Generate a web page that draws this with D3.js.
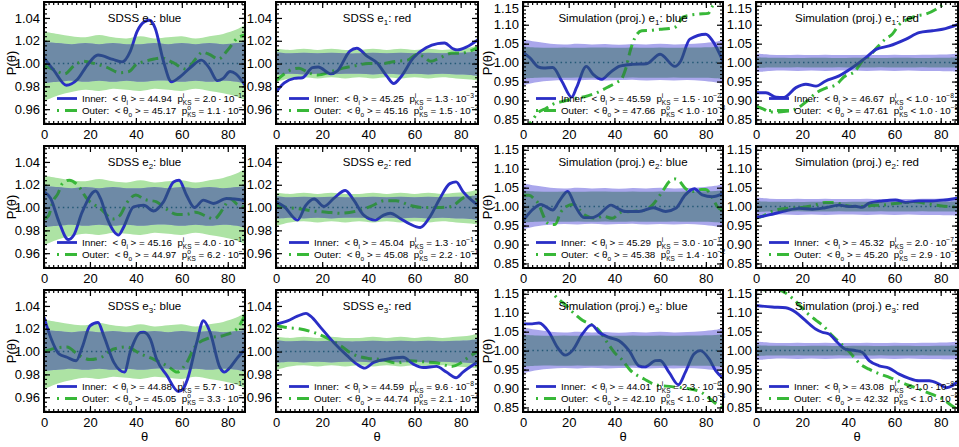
<!DOCTYPE html>
<html>
<head>
<meta charset="utf-8">
<script src="https://cdn.jsdelivr.net/npm/d3@7"></script>
<style>
  body { margin: 0; background: #fff; }
  text { font-family: "Liberation Sans", Arial, Helvetica, sans-serif; white-space: pre; }
</style>
</head>
<body>
<svg id="chart" width="959" height="447" xml:space="preserve"></svg>
<script>
// ---- data ----
var colSource = ["SDSS", "SDSS", "Simulation (proj.)", "Simulation (proj.)"];
var colColour = ["blue", "red", "blue", "red"];

var innerMean = [44.94, 45.25, 45.59, 46.67, 45.16, 45.04, 45.29, 45.32, 44.88, 44.59, 44.01, 43.08];
var outerMean = [45.17, 45.16, 47.66, 47.61, 44.97, 45.08, 45.38, 45.20, 45.05, 44.74, 42.10, 42.32];
var innerPKS = ["2.0e-1", "1.3e-3", "1.5e-2", "<1.0e-8", "4.0e-1", "1.3e-1", "3.0e-1", "2.0e-7", "5.7e-1", "9.6e-8", "2.3e-6", "<1.0e-8"];
var outerPKS = ["1.1e-1", "1.5e-2", "<1.0e-8", "<1.0e-8", "6.2e-1", "2.2e-1", "1.4e-2", "2.9e-2", "3.3e-1", "2.1e-7", "<1.0e-8", "<1.0e-8"];

var xTicks = [0, 20, 40, 60, 80];
var sdssTicks = [0.96, 0.98, 1.00, 1.02, 1.04];
var simTicks = [0.85, 0.90, 0.95, 1.00, 1.05, 1.10, 1.15];

// inner sample curves [theta, P]
var innerCurves = [
  [[0,1.005],[4.3,0.994],[9.7,0.981],[14.5,0.986],[19,0.999],[23.5,1.0075],[30,1.0036],[34,1.0015],[37.6,1.011],[40.5,1.028],[44,1.037],[46,1.038],[48.4,1.031],[52,1.002],[55.5,0.984],[59,0.988],[64,0.997],[68.5,1.003],[72,0.996],[75.5,0.985],[78,0.987],[81,0.993],[83.5,0.991],[87.5,0.981]],
  [[0,0.975],[3.6,0.983],[7.9,0.987],[11.5,0.9876],[15.8,0.9964],[18.3,0.997],[23.7,0.991],[26.5,0.9934],[32,1.011],[35,1.0135],[39.4,1.0065],[43.7,1.0007],[48,0.989],[51,0.9825],[53.8,0.9876],[59.5,1.005],[65,1.0138],[70,1.0175],[73,1.018],[76.7,1.013],[78.5,1.012],[82.5,1.0145],[87.5,1.021]],
  [[0,1.027],[3,1.013],[6.6,0.989],[9,0.986],[13,0.987],[17,0.951],[21.3,0.909],[23.4,0.934],[27.7,0.99],[30.7,0.969],[34.5,0.956],[38,0.973],[42.4,0.991],[48,0.9955],[54,0.997],[60,1.022],[66.5,0.99],[68.7,1.001],[73,1.062],[80,1.075],[83,1.057],[87.5,1.004]],
  [[0,0.9205],[4.3,0.9205],[8.7,0.909],[12,0.908],[17.3,0.934],[21.6,0.943],[26,0.938],[30,0.951],[36,0.965],[41.8,0.987],[47.6,1.013],[52,1.035],[57.7,1.044],[65,1.062],[70.6,1.079],[76.4,1.084],[80.8,1.088],[87.5,1.101]],
  [[0,1.014],[2.9,1.008],[6.5,0.9876],[10.5,0.972],[13,0.976],[16.6,0.996],[22.5,1.0145],[24.6,1.008],[27.5,0.9905],[32.5,0.976],[34.7,0.983],[39,1.0007],[43.4,1.002],[47.7,0.997],[52,1.005],[56.4,1.0225],[58.8,1.024],[62,1.011],[65.5,1.0],[69.4,1.0065],[73.7,1.0036],[79.5,1.008],[83,1.0075],[87.5,1.006]],
  [[0,1.005],[3.6,1.0007],[9.3,0.989],[12.9,1.002],[16.5,1.0075],[20.8,1.001],[25,1.008],[30,1.015],[33.7,1.0065],[38,0.9934],[43,0.989],[46.6,0.9934],[49.5,0.995],[53.8,0.9905],[58,0.9856],[62.5,0.9825],[66.7,0.992],[71,1.008],[75.3,1.021],[78,1.0225],[81,1.014],[87.5,1.002]],
  [[0,0.962],[4,0.991],[7.9,1.006],[10,1.0],[13,0.991],[15.7,1.013],[19.5,1.04],[23,1.0],[26.7,0.971],[30.3,0.971],[33,0.978],[38.5,1.004],[40.5,0.9985],[45,0.987],[50.7,0.987],[57,0.997],[62.4,0.987],[66.8,0.9955],[71,1.031],[75,1.047],[78.4,1.031],[82.8,1.026],[87.5,1.035]],
  [[0,0.971],[5.6,0.978],[12.9,0.989],[18.6,0.9955],[24.4,0.993],[30,0.997],[36,1.004],[40.3,1.0],[43,1.001],[46,0.998],[49,1.009],[54.7,1.015],[60.5,1.0176],[64.8,1.011],[70.6,1.015],[76.4,1.015],[82,1.0176],[87.5,1.022]],
  [[0,1.03],[2.9,1.0124],[6.5,0.998],[10,0.995],[14,0.992],[16.6,1.0036],[20,1.0225],[23.5,1.0255],[26,1.014],[30.4,0.9905],[35,0.982],[37.6,1.0],[42,1.0167],[43.5,1.017],[46.3,1.011],[49,0.9934],[53.5,0.979],[58.5,0.965],[60.5,0.967],[62.5,0.976],[66.5,1.008],[69.4,1.027],[72.3,1.017],[76.6,0.986],[78.5,0.982],[80.5,0.985],[84,0.994],[87.5,1.002]],
  [[0,1.024],[5,1.027],[9.3,1.031],[13,1.0335],[15,1.031],[19.4,1.021],[25,1.008],[30.8,0.9964],[35,0.989],[38.5,0.9855],[42.3,0.9905],[48,0.9934],[55,0.995],[59.5,0.989],[63.8,0.986],[69.5,0.987],[73.8,0.982],[78,0.977],[81,0.982],[87.5,0.991]],
  [[0,1.0706],[4,1.0706],[7,1.073],[11.4,1.0485],[15,1.009],[18.5,0.988],[21.6,1.0],[26,1.044],[30,1.068],[33.2,1.0485],[37.6,1.035],[42,1.026],[46.4,1.0],[50.7,0.96],[53.3,0.957],[58,0.9735],[60,0.974],[63.9,0.9426],[68,0.91],[71,0.9426],[74.8,0.991],[77.6,1.0],[81.4,0.978],[84.3,0.947],[87.5,0.927]],
  [[0,1.119],[7,1.115],[12.9,1.113],[17.2,1.1015],[21.5,1.079],[25.8,1.057],[28.7,1.0485],[31.6,1.044],[35.2,1.022],[38.8,1.004],[43.2,1.0],[46,0.9955],[49,0.9735],[53.3,0.96],[57.6,0.954],[62,0.938],[66.3,0.927],[70.6,0.9205],[75,0.9205],[79.3,0.912],[82.5,0.902],[85,0.907],[87.5,0.92]]
];

// outer sample curves [theta, P]
var outerCurves = [
  [[0,0.998],[4,0.995],[9,0.991],[13,0.998],[17,1.002],[22,1.0],[27,0.997],[33,0.992],[37,0.993],[40,0.999],[44,1.002],[48,1.004],[51,1.005],[56,1.001],[62,0.995],[66,1.004],[69,1.01],[72,1.008],[76,1.004],[80,1.012],[84,1.022],[87.5,1.025]],
  [[0,0.985],[3,0.99],[7,0.995],[10,0.996],[14,0.992],[18,0.99],[24,0.993],[29,0.996],[34,0.998],[40,1.0],[46,1.0],[52,1.002],[57,1.003],[61,1.008],[64,1.006],[67,1.002],[71,1.005],[76,1.009],[80,1.009],[84,1.011],[87.5,1.014]],
  [[0,0.825],[3,0.84],[7,0.87],[10,0.879],[13,0.89],[17,0.897],[22,0.905],[27,0.91],[32,0.92],[37,0.935],[41,0.948],[43,0.956],[45,0.985],[47,1.033],[49,1.066],[52,1.084],[56,1.085],[60,1.088],[64,1.09],[67,1.095],[70,1.12],[73,1.125],[77,1.128],[81,1.13],[83,1.15],[86,1.175]],
  [[0,0.885],[3,0.878],[6,0.87],[10,0.87],[14,0.872],[18,0.88],[22,0.898],[26,0.92],[30,0.932],[35,0.943],[38,0.962],[43,0.978],[46,1.004],[49,1.017],[52.6,1.041],[56,1.062],[59,1.075],[62,1.1],[66,1.115],[70,1.124],[73.5,1.128],[78,1.141],[83,1.163],[87.5,1.19]],
  [[0,0.99],[2,0.993],[4,1.006],[6,1.012],[8,1.021],[11,1.024],[14.5,1.02],[19,1.007],[24.6,0.999],[30,0.99],[33,0.993],[36,1.004],[40,1.011],[44,1.007],[49,1.005],[53,0.999],[58,0.994],[62,0.994],[66,0.996],[71,0.992],[74,0.99],[78,0.999],[81,1.008],[84,1.003],[87.5,1.0]],
  [[0,1.002],[5,1.0],[10,0.999],[16,0.997],[22,0.996],[28,0.995],[35,0.997],[41,1.001],[47,1.006],[52,1.006],[58,1.002],[64,1.0],[70,1.0],[76,1.001],[82,1.009],[87.5,1.006]],
  [[0,1.03],[2.6,1.03],[5,1.02],[7,1.005],[8.5,0.982],[10,0.962],[12,0.953],[14,0.953],[16.5,0.985],[19,1.0],[22,1.006],[25,0.99],[27,0.978],[32,0.969],[35,0.975],[39,0.969],[43,0.985],[49,0.988],[53,0.99],[56.6,1.004],[61,1.04],[64,1.066],[66.5,1.073],[68,1.07],[71,1.048],[74,1.04],[78,1.045],[80,1.045],[83,1.022],[85,1.0],[87.5,0.99]],
  [[0,0.97],[3,0.975],[6,0.985],[10,0.993],[15,0.996],[20,0.998],[25,1.003],[30,1.011],[34,1.011],[38,1.004],[42,1.0],[46,1.0],[50,1.003],[55,1.004],[60,1.008],[65,1.011],[69,1.013],[73,1.009],[78,1.004],[83,1.0],[87.5,0.999]],
  [[0,1.0],[5,1.003],[10,1.004],[15,0.997],[20,0.993],[25,0.995],[30,1.002],[36,1.004],[42,0.998],[48,0.993],[54,0.987],[58,0.982],[62,0.99],[66,1.005],[72,1.012],[78,1.014],[84,1.02],[87.5,1.032]],
  [[0,1.023],[5,1.021],[10,1.02],[16,1.017],[22,1.012],[28,1.005],[33,0.998],[40,0.994],[46,0.993],[52,0.99],[58,0.992],[64,0.991],[70,0.99],[76,0.987],[80,0.99],[84,0.996],[87.5,1.0]],
  [[0,1.2],[5,1.19],[9,1.17],[12,1.16],[15,1.138],[18,1.124],[22,1.1],[26,1.08],[30,1.068],[33,1.055],[37,1.02],[40,0.995],[43,0.978],[47,0.948],[53,0.925],[58,0.91],[65,0.905],[72,0.9],[78,0.89],[84,0.862],[87.5,0.848]],
  [[0,1.175],[4,1.16],[8.5,1.163],[12,1.155],[16,1.137],[22,1.1],[26,1.08],[29,1.066],[33,1.04],[37,1.017],[40,1.0],[42.5,0.982],[45,0.965],[49,0.951],[53,0.94],[58,0.929],[63,0.916],[70,0.9],[76,0.885],[81,0.872],[85,0.854],[87.5,0.845]]
];

// confidence bands, one set per column
var bandTheta = [0, 6, 12, 18, 24, 30, 36, 42, 48, 54, 60, 66, 72, 78, 84, 87.5];
var outerHi = [
  [1.028,1.026,1.024,1.023,1.025,1.023,1.022,1.024,1.022,1.023,1.024,1.022,1.024,1.026,1.030,1.034],
  [1.013,1.012,1.013,1.012,1.013,1.012,1.012,1.013,1.012,1.013,1.012,1.013,1.012,1.013,1.014,1.016],
  [1.062,1.055,1.050,1.048,1.050,1.048,1.049,1.047,1.049,1.048,1.050,1.048,1.049,1.051,1.055,1.060],
  [1.024,1.021,1.020,1.021,1.020,1.021,1.020,1.020,1.021,1.020,1.021,1.020,1.021,1.021,1.022,1.024]
];
var outerLo = [
  [0.967,0.972,0.975,0.977,0.976,0.978,0.977,0.976,0.978,0.977,0.976,0.978,0.976,0.974,0.971,0.968],
  [0.984,0.987,0.988,0.987,0.988,0.987,0.988,0.987,0.988,0.987,0.988,0.987,0.988,0.987,0.986,0.985],
  [0.940,0.948,0.952,0.954,0.953,0.955,0.953,0.954,0.955,0.953,0.954,0.953,0.954,0.952,0.948,0.944],
  [0.975,0.978,0.979,0.978,0.979,0.978,0.979,0.979,0.978,0.979,0.978,0.979,0.978,0.978,0.977,0.975]
];
var innerHi = [
  [1.019,1.018,1.017,1.018,1.017,1.018,1.017,1.017,1.018,1.017,1.018,1.017,1.018,1.017,1.018,1.019],
  [1.010,1.009,1.0095,1.009,1.0095,1.009,1.009,1.0095,1.009,1.0095,1.009,1.0095,1.009,1.0095,1.010,1.011],
  [1.042,1.040,1.039,1.040,1.039,1.040,1.040,1.039,1.040,1.039,1.040,1.039,1.040,1.040,1.041,1.043],
  [1.014,1.013,1.013,1.012,1.013,1.013,1.012,1.013,1.013,1.012,1.013,1.013,1.012,1.013,1.013,1.014]
];
var innerLo = [
  [0.983,0.984,0.985,0.984,0.985,0.984,0.985,0.984,0.985,0.985,0.984,0.985,0.984,0.985,0.984,0.982],
  [0.990,0.991,0.9905,0.991,0.9905,0.991,0.991,0.9905,0.991,0.9905,0.991,0.9905,0.991,0.9905,0.990,0.989],
  [0.958,0.960,0.961,0.960,0.961,0.960,0.961,0.960,0.961,0.960,0.960,0.961,0.960,0.960,0.959,0.957],
  [0.986,0.987,0.987,0.988,0.987,0.987,0.988,0.987,0.987,0.988,0.987,0.987,0.988,0.987,0.987,0.986]
];

// ---- layout ----
var colLeft = [44, 276, 523, 756], colWidth = [201, 202, 200, 202];
var rowTop = [2, 146, 290], rowHeight = 122;
var sdssDomain = [0.947, 1.054], simDomain = [0.838, 1.16];

var blue = "#2a2ec6", green = "#38b838";
var outerFill = ["#ade3a4", "#ade3a4", "#aaa7ec", "#aaa7ec"];

var svg = d3.select("#chart");
var defs = svg.append("defs");

function richText(g, x, y, runs, size) {
    var cx = x;
    runs.forEach(function(r) {
        if (r.t !== undefined) {
            var t = g.append("text").attr("x", cx).attr("y", y).attr("font-size", size).text(r.t);
            cx += t.node().getComputedTextLength();
        } else {
            var w = 0;
            if (r.sup) {
                var s = g.append("text").attr("x", cx).attr("y", y - size * 0.42)
                    .attr("font-size", size * 0.68).text(r.sup);
                w = Math.max(w, s.node().getComputedTextLength());
            }
            if (r.sub) {
                var b = g.append("text").attr("x", cx).attr("y", y + size * 0.28)
                    .attr("font-size", size * 0.66).text(r.sub);
                w = Math.max(w, b.node().getComputedTextLength());
            }
            cx += w;
        }
    });
    return cx;
}

function pRuns(p) {
    var lt = p[0] == "<";
    var s = lt ? p.slice(1) : p;
    var parts = s.split("e");
    return [{t: (lt ? " < " : " = ") + parts[0] + "\u2009\u00b7\u200910"}, {sup: parts[1].replace("-", "\u2212")}];
}

for (var r = 0; r < 3; r++) {
    for (var c = 0; c < 4; c++) {
        var i = r * 4 + c;
        var sim = c >= 2;
        var x0 = colLeft[c], w = colWidth[c], y0 = rowTop[r], h = rowHeight;
        var x = d3.scaleLinear().domain([0, 87.5]).range([x0, x0 + w]);
        var y = d3.scaleLinear().domain(sim ? simDomain : sdssDomain).range([y0 + h, y0]);

        defs.append("clipPath").attr("id", "clip" + i)
            .append("rect").attr("x", x0).attr("y", y0).attr("width", w).attr("height", h);

        var g = svg.append("g");
        var plot = g.append("g").attr("clip-path", "url(#clip" + i + ")");

        var bandData = bandTheta.map(function(t, k) {
            return {t: t, olo: outerLo[c][k], ohi: outerHi[c][k], ilo: innerLo[c][k], ihi: innerHi[c][k]};
        });
        var outerArea = d3.area().x(function(d) { return x(d.t); })
            .y0(function(d) { return y(d.olo); }).y1(function(d) { return y(d.ohi); })
            .curve(d3.curveCatmullRom);
        var innerArea = d3.area().x(function(d) { return x(d.t); })
            .y0(function(d) { return y(d.ilo); }).y1(function(d) { return y(d.ihi); })
            .curve(d3.curveCatmullRom);

        plot.append("path").attr("d", outerArea(bandData)).attr("fill", outerFill[c]);
        plot.append("path").attr("d", innerArea(bandData)).attr("fill", "rgb(176,176,252)");

        // title
        var title = g.append("text").attr("x", x0 + w / 2).attr("y", y0 + 19.7)
            .attr("text-anchor", "middle").attr("font-size", 11.5);
        title.append("tspan").text(colSource[c] + " e");
        title.append("tspan").attr("font-size", 8).attr("dy", 3).text(String(r + 1));
        title.append("tspan").attr("dy", -3).text(": " + colColour[c]);

        // legend
        var lg = g.append("g");
        var ly1 = y0 + 100, ly2 = y0 + 112;
        richText(lg, x0 + 38, ly1, [{t: "Inner:  < \u03b8"}, {sub: "i"},
            {t: " > = " + innerMean[i].toFixed(2) + "  p"}, {sup: "i", sub: "KS"}].concat(pRuns(innerPKS[i])), 9.8);
        richText(lg, x0 + 38, ly2, [{t: "Outer:  < \u03b8"}, {sub: "o"},
            {t: " > = " + outerMean[i].toFixed(2) + "  p"}, {sup: "o", sub: "KS"}].concat(pRuns(outerPKS[i])), 9.8);
        lg.append("line").attr("x1", x0 + 13).attr("x2", x0 + 33).attr("y1", ly1 - 3.5).attr("y2", ly1 - 3.5)
            .attr("stroke", blue).attr("stroke-width", 2.8);
        lg.append("line").attr("x1", x0 + 13).attr("x2", x0 + 15).attr("y1", ly2 - 3.5).attr("y2", ly2 - 3.5)
            .attr("stroke", green).attr("stroke-width", 3);
        lg.append("line").attr("x1", x0 + 21).attr("x2", x0 + 33).attr("y1", ly2 - 3.5).attr("y2", ly2 - 3.5)
            .attr("stroke", green).attr("stroke-width", 3);

        // reference level
        plot.append("line").attr("x1", x0).attr("x2", x0 + w).attr("y1", y(1)).attr("y2", y(1))
            .attr("stroke", "#1f4f9f").attr("stroke-width", 1.5).attr("stroke-dasharray", "1.5,3.2");

        var line = d3.line().x(function(d) { return x(d[0]); }).y(function(d) { return y(d[1]); })
            .curve(d3.curveMonotoneX);
        plot.append("path").attr("d", line(outerCurves[i])).attr("fill", "none")
            .attr("stroke", green).attr("stroke-width", 3).attr("stroke-dasharray", "11,5,2,5");
        plot.append("path").attr("d", line(innerCurves[i])).attr("fill", "none")
            .attr("stroke", blue).attr("stroke-width", 2.9).attr("stroke-linejoin", "round");

        // darker overlay on the inner band
        plot.append("path").attr("d", innerArea(bandData)).attr("fill", "rgb(44,100,80)").attr("fill-opacity", 0.5);

        // axes, ticks inward on all sides
        var yMajor = sim ? simTicks : sdssTicks;
        var yMinor = (sim ? d3.range(84, 117, 1).map(function(v) { return v / 100; })
                          : d3.range(237, 264, 1).map(function(v) { return v * 0.004; }))
            .filter(function(v) { return v >= y.domain()[0] && v <= y.domain()[1]; });
        var xMinor = d3.range(0, 88, 2);

        var axes = [
            g.append("g").attr("transform", "translate(0," + (y0 + h) + ")")
                .call(d3.axisBottom(x).tickValues(xTicks).tickSize(-6).tickPadding(6).tickFormat(d3.format("d"))),
            g.append("g").attr("transform", "translate(0," + (y0 + h) + ")")
                .call(d3.axisBottom(x).tickValues(xMinor).tickSize(-3).tickFormat("")),
            g.append("g").attr("transform", "translate(0," + y0 + ")")
                .call(d3.axisTop(x).tickValues(xTicks).tickSize(-6).tickFormat("")),
            g.append("g").attr("transform", "translate(0," + y0 + ")")
                .call(d3.axisTop(x).tickValues(xMinor).tickSize(-3).tickFormat("")),
            g.append("g").attr("transform", "translate(" + x0 + ",0)")
                .call(d3.axisLeft(y).tickValues(yMajor).tickSize(-6).tickPadding(4).tickFormat(d3.format(".2f"))),
            g.append("g").attr("transform", "translate(" + x0 + ",0)")
                .call(d3.axisLeft(y).tickValues(yMinor).tickSize(-3).tickFormat("")),
            g.append("g").attr("transform", "translate(" + (x0 + w) + ",0)")
                .call(d3.axisRight(y).tickValues(yMajor).tickSize(-6).tickFormat("")),
            g.append("g").attr("transform", "translate(" + (x0 + w) + ",0)")
                .call(d3.axisRight(y).tickValues(yMinor).tickSize(-3).tickFormat(""))
        ];
        axes.forEach(function(a) {
            a.select(".domain").remove();
            a.attr("font-size", 13).attr("font-family", null);
            a.selectAll("line").attr("stroke-width", 1.2);
        });
        // keep the topmost tick label inside the page
        axes[4].selectAll(".tick text").filter(function(d) { return y(d) < 8; }).attr("dy", "0.5em");

        g.append("rect").attr("x", x0).attr("y", y0).attr("width", w).attr("height", h)
            .attr("fill", "none").attr("stroke", "#000").attr("stroke-width", 2);

        if (r == 2) {
            g.append("text").attr("x", x0 + w / 2).attr("y", 440.5).attr("text-anchor", "middle")
                .attr("font-size", 13).text("\u03b8");
        }
        if (c == 0 || c == 2) {
            g.append("text").attr("transform", "translate(" + (c == 0 ? 15.5 : 492) + "," + (y0 + h / 2) + ") rotate(-90)")
                .attr("text-anchor", "middle").attr("font-size", 13).text("P(\u03b8)");
        }
    }
}
</script>
</body>
</html>
